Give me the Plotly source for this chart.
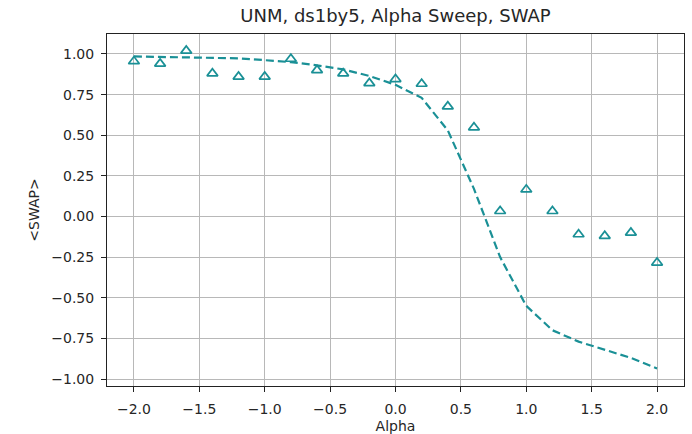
import plotly.graph_objects as go

alpha = [-2.0, -1.8, -1.6, -1.4, -1.2, -1.0, -0.8, -0.6, -0.4, -0.2, 0.0,
         0.2, 0.4, 0.6, 0.8, 1.0, 1.2, 1.4, 1.6, 1.8, 2.0]
measured = [0.955, 0.94, 1.02, 0.88, 0.86, 0.86, 0.97, 0.90, 0.88, 0.82, 0.845,
            0.816, 0.677, 0.548, 0.033, 0.166, 0.033, -0.11, -0.12, -0.10, -0.284]
theory = [0.985, 0.983, 0.98, 0.977, 0.973, 0.962, 0.95, 0.93, 0.905, 0.865, 0.81,
          0.73, 0.53, 0.17, -0.25, -0.55, -0.70, -0.77, -0.82, -0.87, -0.935]

color = "#1a9096"
font = "DejaVu Sans, Arial, sans-serif"

fig = go.Figure()
fig.add_trace(go.Scatter(x=alpha, y=theory, mode="lines",
                         line=dict(color=color, width=2.2, dash="8px,4px"),
                         showlegend=False))
fig.add_trace(go.Scatter(x=alpha, y=measured, mode="markers",
                         marker=dict(symbol="triangle-up-open", size=9.5,
                                     color=color, line=dict(width=1.7, color=color)),
                         showlegend=False))

axis_common = dict(showline=True, linecolor="#222", linewidth=1, mirror=True,
                   ticks="outside", ticklen=5, tickcolor="#222", tickwidth=1,
                   showgrid=True, gridcolor="#b8b8b8", gridwidth=1, zeroline=False,
                   automargin=False,
                   tickfont=dict(family=font, size=14, color="#262626"))

fig.update_layout(
    width=692, height=434,
    margin=dict(l=107, r=8, t=34, b=48),
    paper_bgcolor="white", plot_bgcolor="white",
    title=dict(text="UNM, ds1by5, Alpha Sweep, SWAP", x=0.5, xref="paper",
               xanchor="center", y=1, yref="paper", yanchor="bottom",
               pad=dict(b=12), font=dict(family=font, size=18, color="#262626")),
    xaxis=dict(range=[-2.206, 2.206], tickvals=[-2.0, -1.5, -1.0, -0.5, 0.0, 0.5, 1.0, 1.5, 2.0],
               ticktext=["\u22122.0", "\u22121.5", "\u22121.0", "\u22120.5", "0.0", "0.5", "1.0", "1.5", "2.0"],
               title=dict(text="Alpha", font=dict(family=font, size=14, color="#262626"), standoff=6),
               ticklabelstandoff=5, **axis_common),
    yaxis=dict(range=[-1.043, 1.123], tickvals=[-1.0, -0.75, -0.5, -0.25, 0.0, 0.25, 0.5, 0.75, 1.0],
               ticktext=["\u22121.00", "\u22120.75", "\u22120.50", "\u22120.25", "0.00", "0.25", "0.50", "0.75", "1.00"],
               title=dict(text="&lt;SWAP&gt;", font=dict(family=font, size=14, color="#262626"), standoff=8),
               ticklabelstandoff=4, **axis_common),
)

fig.write_html("out.html")
